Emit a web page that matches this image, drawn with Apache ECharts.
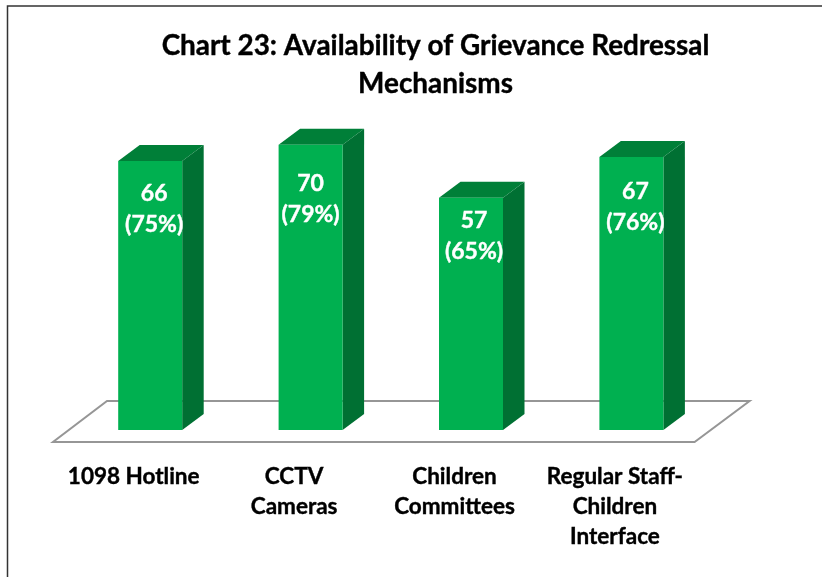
<!DOCTYPE html>
<html>
<head>
<meta charset="utf-8">
<style>html,body{margin:0;padding:0;background:#fff}#c{width:822px;height:577px}</style>
<script src="https://cdn.jsdelivr.net/npm/echarts@6/dist/echarts.min.js"></script>
</head>
<body>
<div id="c"></div>
<script>
const categories = ['1098 Hotline', 'CCTV\nCameras', 'Children\nCommittees', 'Regular Staff-\nChildren\nInterface'];
const counts = [66, 70, 57, 67];
const percents = [75, 79, 65, 76];

const FONT = 'Lato, Carlito, sans-serif';
const DX = 21.5, DY = 16, BAR_W = 64;
const labelShift = [[4, 32], [0, 38], [3, 22], [4, 34]];

const chart = echarts.init(document.getElementById('c'), null, {renderer: 'canvas'});

function renderBar(params, api) {
  const i = api.value(0);
  const top = api.coord([i, api.value(1)]);
  const base = api.coord([i, 0]);
  const l = top[0] - BAR_W / 2, r = top[0] + BAR_W / 2, t = top[1], b = base[1];
  return {
    type: 'group',
    children: [
      {type: 'polygon', shape: {points: [[r, t], [r + DX, t - DY], [r + DX, b - DY], [r, b]]}, style: {fill: '#007033'}},
      {type: 'polygon', shape: {points: [[l, t], [l + DX, t - DY], [r + DX, t - DY], [r, t]]}, style: {fill: '#007F38'}},
      {type: 'rect', shape: {x: l, y: t, width: BAR_W, height: b - t}, style: {fill: '#00B050'}},
      {type: 'text', x: top[0] + labelShift[i][0], y: t + labelShift[i][1] - 15,
        style: {text: counts[i] + '\n(' + percents[i] + '%)', fill: '#fff', font: 'bold 23px ' + FONT,
          align: 'center', verticalAlign: 'top', lineHeight: 31, stroke: '#fff', lineWidth: 0.4}}
    ]
  };
}

function renderFloor(params, api) {
  const cs = params.coordSys;
  const y0 = api.coord([0, 0])[1];
  const yb = y0 + 12, yt = y0 - 29;
  const xl = cs.x - 17, xr = cs.x + cs.width - 17;
  const off = 55;
  return {
    type: 'polygon',
    shape: {points: [[xl, yb], [xr, yb], [xr + off, yt], [xl + off - 1, yt]]},
    style: {fill: '#fff', stroke: '#969696', lineWidth: 2}
  };
}

chart.setOption({
  animation: false,
  backgroundColor: '#fff',
  title: {
    text: 'Chart 23: Availability of Grievance Redressal\nMechanisms',
    left: 430.5, top: 22, textAlign: 'center',
    textStyle: {fontFamily: FONT, fontWeight: 'bold', fontSize: 27.9, lineHeight: 38, color: '#000',
      textBorderColor: '#000', textBorderWidth: 0.4}
  },
  grid: {left: 70, width: 641.6, top: 104, height: 326},
  xAxis: {
    type: 'category', data: categories,
    axisLine: {show: false}, axisTick: {show: false}, splitLine: {show: false},
    axisLabel: {interval: 0, margin: 32, fontFamily: FONT, fontWeight: 'bold', fontSize: 22.5,
      lineHeight: 30, color: '#000', padding: [0, 33, 0, 0], textBorderColor: '#000', textBorderWidth: 0.4}
  },
  yAxis: {type: 'value', min: 0, max: 80, show: false},
  graphic: [{type: 'polyline', shape: {points: [[822, 6], [7.5, 6], [7.5, 577]]}, style: {fill: null, stroke: '#333', lineWidth: 1.5}, silent: true}],
  series: [
    {type: 'custom', silent: true, data: [[0]], renderItem: renderFloor, z: 1, encode: {x: 0}},
    {type: 'custom', silent: true, data: counts.map((v, i) => [i, v]), renderItem: renderBar, z: 2, encode: {x: 0, y: 1}}
  ]
});
</script>
</body>
</html>
